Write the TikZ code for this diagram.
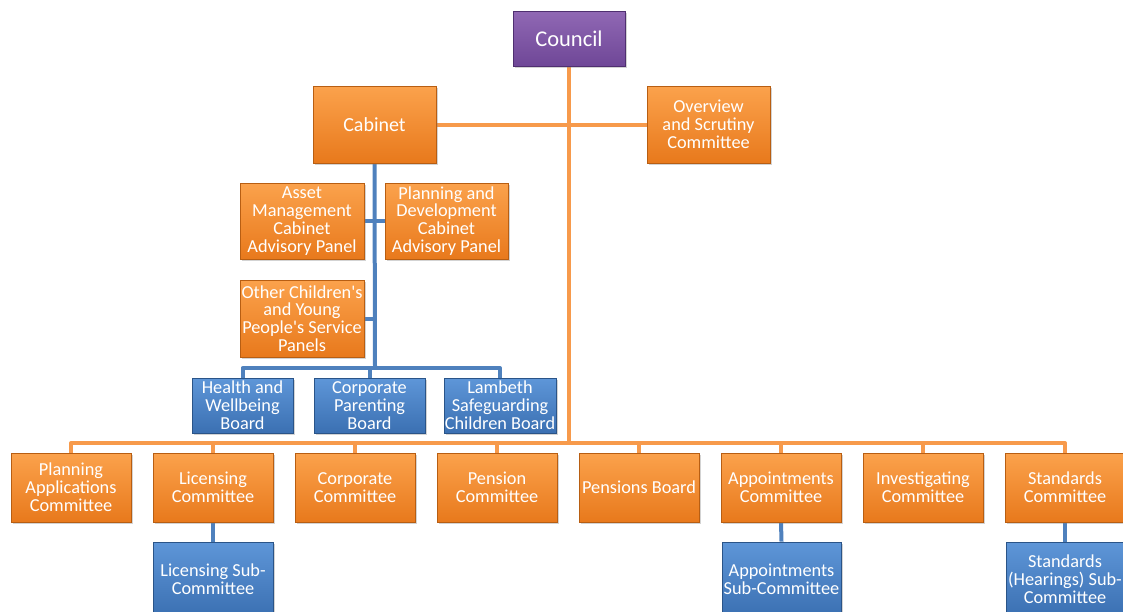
\documentclass[tikz,border=0pt]{standalone}
\usepackage{fontspec}
\setmainfont{Carlito}
\usetikzlibrary{shadows,backgrounds}
\definecolor{orgtop}{HTML}{FBA24C}
\definecolor{orgbot}{HTML}{E8791C}
\definecolor{orgdark}{HTML}{B85E12}
\definecolor{blutop}{HTML}{5E96D8}
\definecolor{blubot}{HTML}{3B70B2}
\definecolor{bludark}{HTML}{2A5488}
\definecolor{purtop}{HTML}{9068B4}
\definecolor{purbot}{HTML}{6F4797}
\definecolor{purdark}{HTML}{4F2F70}
\definecolor{orgline}{HTML}{F79A4B}
\definecolor{bluline}{HTML}{4F81BD}
\tikzset{
  basebox/.style={rectangle, align=center, text=white, inner sep=0pt,
    font=\fontsize{18.3}{17.8}\selectfont, line width=0.8pt,
    drop shadow={opacity=0.35, shadow xshift=2pt, shadow yshift=-2pt}},
  obox/.style={basebox, top color=orgtop, bottom color=orgbot, draw=orgdark},
  bbox/.style={basebox, top color=blutop, bottom color=blubot, draw=bludark},
  pbox/.style={basebox, top color=purtop, bottom color=purbot, draw=purdark,
    font=\fontsize{22.5}{24}\selectfont},
  oline/.style={draw=orgline, line width=4pt},
  bline/.style={draw=bluline, line width=4pt},
}
\begin{document}
\begin{tikzpicture}[x=1pt,y=-1pt]
\useasboundingbox (0,0) rectangle (1123,611);
% top
\node[pbox, minimum width=112pt, minimum height=55pt] (council) at (569,38.5) {Council};
\node[obox, minimum width=123pt, minimum height=77pt, font=\fontsize{20}{20}\selectfont] (cab) at (374.5,124.5) {Cabinet};
\node[obox, minimum width=123pt, minimum height=77pt] (ov) at (708.5,124.5) {Overview\\and Scrutiny\\Committee};
% cabinet panels
\node[obox, minimum width=124pt, minimum height=76pt] (am) at (302,221) {Asset\\Management\\Cabinet\\Advisory Panel};
\node[obox, minimum width=123pt, minimum height=76pt] (pd) at (446.5,221) {Planning and\\Development\\Cabinet\\Advisory Panel};
\node[obox, minimum width=124pt, minimum height=77pt] (oc) at (302,318.5) {Other Children\textquotesingle s\\and Young\\People\textquotesingle s Service\\Panels};
% blue boards
\node[bbox, minimum width=101pt, minimum height=55pt] (hw) at (242.5,405.5) {Health and\\Wellbeing\\Board};
\node[bbox, minimum width=111pt, minimum height=55pt] (cp) at (369.5,405.5) {Corporate\\Parenting\\Board};
\node[bbox, minimum width=112pt, minimum height=55pt] (ls) at (500,405.5) {Lambeth\\Safeguarding\\Children Board};
% committees
\node[obox, minimum width=120pt, minimum height=69pt] (pa) at (71,487.5) {Planning\\Applications\\Committee};
\node[obox, minimum width=120pt, minimum height=69pt] (lic) at (213,487.5) {Licensing\\Committee};
\node[obox, minimum width=120pt, minimum height=69pt] (cc) at (355,487.5) {Corporate\\Committee};
\node[obox, minimum width=120pt, minimum height=69pt] (pc) at (497,487.5) {Pension\\Committee};
\node[obox, minimum width=120pt, minimum height=69pt] (pb) at (639,487.5) {Pensions Board};
\node[obox, minimum width=120pt, minimum height=69pt] (ap) at (781,487.5) {Appointments\\Committee};
\node[obox, minimum width=120pt, minimum height=69pt] (ic) at (923,487.5) {Investigating\\Committee};
\node[obox, minimum width=120pt, minimum height=69pt] (st) at (1065,487.5) {Standards\\Committee};
% sub-committees
\node[bbox, minimum width=120pt, minimum height=74pt] (lics) at (213,579) {Licensing Sub-\\Committee};
\node[bbox, minimum width=119pt, minimum height=74pt] (aps) at (781.5,579) {Appointments\\Sub-Committee};
\node[bbox, minimum width=118pt, minimum height=74pt] (sts) at (1065,579) {Standards\\(Hearings) Sub-\\Committee};
% connectors
\coordinate (obus) at (569,443);
\coordinate (bbus) at (375,368);
\begin{scope}[on background layer]
\draw[oline] (council.south) -- (obus);
\draw[oline] (cab.east) -- (ov.west);
\draw[oline, line join=round] (pa.north) -- (pa.north |- obus) -- (st.north |- obus) -- (st.north);
\foreach \n in {lic,cc,pc,pb,ap,ic} \draw[oline] (\n.north) -- (\n.north |- obus);
\draw[bline] (cab.south) -- (bbus);
\draw[bline] (am.east) -- (pd.west);
\draw[bline] (oc.east) -- (oc.east -| bbus);
\draw[bline, line join=round] (hw.north) -- (hw.north |- bbus) -- (ls.north |- bbus) -- (ls.north);
\draw[bline] (cp.north) -- (cp.north |- bbus);
\draw[bline] (lic.south) -- (lics.north);
\draw[bline] (ap.south) -- (aps.north);
\draw[bline] (st.south) -- (sts.north);
\end{scope}
\end{tikzpicture}
\end{document}
